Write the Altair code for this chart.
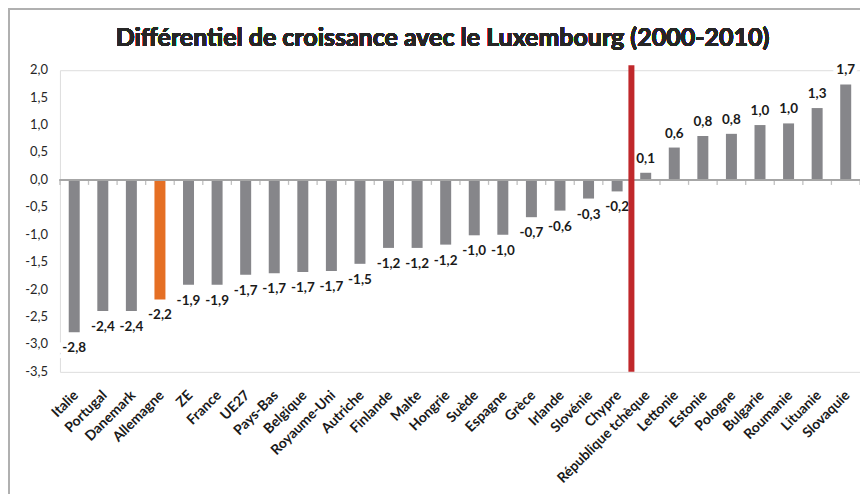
import altair as alt
import pandas as pd

countries = ["Italie", "Portugal", "Danemark", "Allemagne", "ZE", "France", "UE27",
             "Pays-Bas", "Belgique", "Royaume-Uni", "Autriche", "Finlande", "Malte",
             "Hongrie", "Suède", "Espagne", "Grèce", "Irlande", "Slovénie", "Chypre",
             "République tchèque", "Lettonie", "Estonie", "Pologne", "Bulgarie",
             "Roumanie", "Lituanie", "Slovaquie"]
values = [-2.78, -2.39, -2.39, -2.18, -1.91, -1.91, -1.73, -1.70, -1.68, -1.66, -1.53,
          -1.24, -1.24, -1.18, -1.01, -1.00, -0.68, -0.56, -0.34, -0.21,
          0.13, 0.59, 0.80, 0.84, 1.00, 1.03, 1.31, 1.74]
highlight = ["Allemagne"]
split_at = ["République tchèque"]
y_ticks = [2, 1.5, 1, 0.5, 0, -0.5, -1, -1.5, -2, -2.5, -3, -3.5]
y_tick_labels = ["2,0", "1,5", "1,0", "0,5", "0,0", "-0,5", "-1,0", "-1,5", "-2,0",
                 "-2,5", "-3,0", "-3,5"]
title_text = "Différentiel de croissance avec le Luxembourg (2000-2010)"

df = pd.DataFrame({"pays": countries, "val": values})
df["couleur"] = ["orange" if c in highlight else "gris" for c in countries]
df["lab"] = [f"{v:.1f}".replace(".", ",") for v in values]
df["pos"] = [v >= 0 for v in values]
ydf = pd.DataFrame({"val": y_ticks, "lab": y_tick_labels})

FONT = "Lato"
GRID = "#a6a6a6"

xs = alt.X("pays:N", sort=countries, title=None,
           scale=alt.Scale(paddingInner=0, paddingOuter=0),
           axis=alt.Axis(labelAngle=-45, labelAlign="right", labelBaseline="middle",
                         labelFont=FONT, labelFontWeight="bold", labelFontSize=14,
                         labelColor="#1a1a1a", labelPadding=21, ticks=False, domain=False,
                         labelOverlap=False, labelOffset=2))
ys = alt.Y("val:Q", title=None,
           scale=alt.Scale(domain=[-3.5, 2.0], nice=False, zero=False),
           axis=alt.Axis(values=y_ticks, labels=False,
                         gridColor=GRID, gridWidth=1.2, domainColor=GRID, domainWidth=1.5,
                         tickColor=GRID, tickSize=5))

base = alt.Chart(df)

frame = base.mark_rect(fillOpacity=0, fill="white", stroke="#b0b0b0", strokeWidth=1.5,
                       clip=False).encode(
    x=alt.value(-51), x2=alt.value(900), y=alt.value(-61), y2=alt.value(520))

title = base.mark_text(font=FONT, fontSize=25, fontWeight="bold", color="#262626",
                       align="center", baseline="middle").encode(
    x=alt.value(383), y=alt.value(-32), text=alt.datum(title_text))

ylabels = alt.Chart(ydf).mark_text(font=FONT, fontSize=13, color="#262626",
                                   align="right", baseline="middle", clip=False).encode(
    x=alt.value(-12), y=alt.Y("val:Q", axis=None), text="lab:N")

bars = base.mark_bar(size=11).encode(
    x=xs, y=ys,
    color=alt.Color("couleur:N", scale=alt.Scale(domain=["gris", "orange"],
                                                 range=["#86868a", "#e56f24"]), legend=None))

zero = base.mark_rule(color=GRID, strokeWidth=1.5).encode(y=alt.datum(0))

ticks = base.mark_tick(orient="vertical", size=5, thickness=1.3, color=GRID, yOffset=2.5).encode(
    x=alt.X("pays:N", sort=countries, bandPosition=0), y=alt.datum(0))
last_tick = alt.Chart(df[df["pays"] == countries[-1]]).mark_tick(
    orient="vertical", size=5, thickness=1.3, color=GRID, yOffset=2.5).encode(
    x=alt.X("pays:N", sort=countries, bandPosition=1), y=alt.datum(0))

neg = df[~df["pos"]]
pos = df[df["pos"]]


def labels(d, dy, halo):
    if halo:
        m = alt.Chart(d).mark_text(font=FONT, fontWeight="bold", fontSize=13.5, dy=dy,
                                   baseline="middle", align="center", color="white",
                                   stroke="white", strokeWidth=9)
    else:
        m = alt.Chart(d).mark_text(font=FONT, fontWeight="bold", fontSize=13.5, dy=dy,
                                   baseline="middle", align="center", color="#1a1a1a")
    return m.encode(x=alt.X("pays:N", sort=countries), y=alt.Y("val:Q", axis=None),
                    text="lab:N")


split = alt.Chart(pd.DataFrame({"pays": split_at})).mark_rule(
    color="#c0282b", strokeWidth=6, clip=False).encode(
    x=alt.X("pays:N", sort=countries, bandPosition=0), y=alt.value(-5), y2=alt.value(302))

chart = alt.layer(
    frame, title, bars, zero, ticks, last_tick,
    labels(neg, 16, True), labels(pos, -14, True),
    labels(neg, 16, False), labels(pos, -14, False),
    ylabels, split
).properties(
    width=801, height=302,
    padding={"left": 52, "top": 62, "right": 0, "bottom": 122},
    autosize=alt.AutoSizeParams(type="none"),
).configure_view(stroke=None).configure(background="white")

chart.save("out.html", embed_options={"renderer": "svg", "actions": False})
